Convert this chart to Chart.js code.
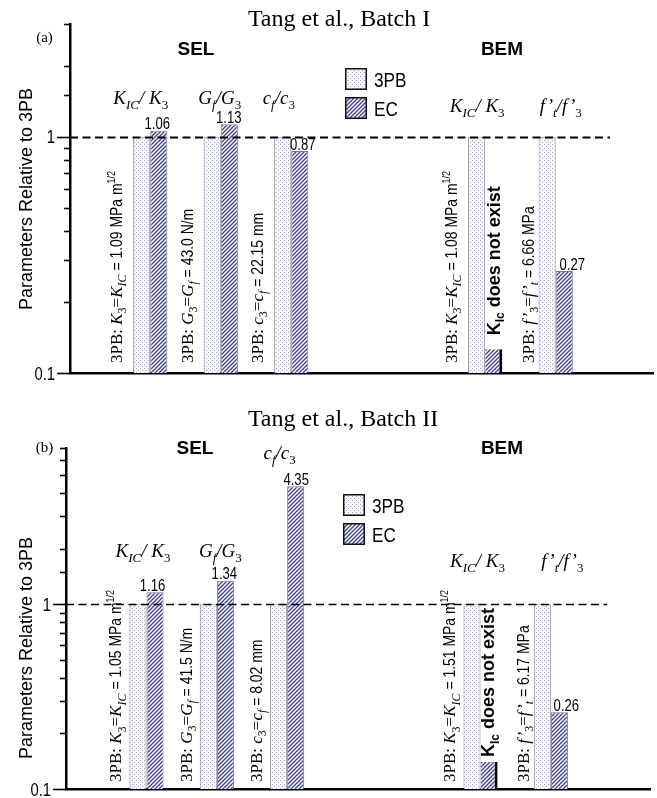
<!DOCTYPE html>
<html>
<head>
<meta charset="utf-8">
<script src="https://cdn.jsdelivr.net/npm/chart.js@4.4.1/dist/chart.umd.min.js"></script>
<style>
  html, body { margin: 0; padding: 0; background: #fff; }
  #wrapA { position: absolute; left: 0; top: 0; width: 657px; height: 400px; }
  #wrapB { position: absolute; left: 0; top: 400px; width: 657px; height: 398px; }
</style>
</head>
<body>
<div id="wrapA"><canvas id="chartA"></canvas></div>
<div id="wrapB"><canvas id="chartB"></canvas></div>
<script>
/* ---------- data ---------- */
// x position of each ratio group (SEL: KIC, Gf, cf  |  BEM: KIC, f't)
const groupX = [0, 1, 2, 4.75, 5.75];
const ref3PB = [1, 1, 1, 1, 1];
const ecBatch1 = [1.06, 1.13, 0.87, 0.126, 0.27];
const ecBatch2 = [1.16, 1.34, 4.35, 0.14, 0.26];
const ecLabels1 = ['1.06', '1.13', '0.87', '', '0.27'];
const ecLabels2 = ['1.16', '1.34', '4.35', '', '0.26'];
const missingEC = [false, false, false, true, false];   // KIc does not exist for BEM
const refValues1 = ['1.09 MPa m', '43.0 N/m', '22.15 mm', '1.08 MPa m', '6.66 MPa'];
const refValues2 = ['1.05 MPa m', '41.5 N/m', '8.02 mm', '1.51 MPa m', '6.17 MPa'];
const yMajor = [0.1, 1];

/* ---------- fonts ---------- */
const SERIF = '"Liberation Serif", "Times New Roman", serif';
const SANS = '"Liberation Sans", Arial, sans-serif';
function hasFont(name) {
  const c = document.createElement('canvas').getContext('2d');
  c.font = '20px monospace';
  const a = c.measureText('abcdefghij0123').width;
  c.font = '20px "' + name + '", monospace';
  return c.measureText('abcdefghij0123').width !== a;
}
const narrowOK = hasFont('Liberation Sans Narrow');
const NARROW = narrowOK ? '"Liberation Sans Narrow", sans-serif' : SANS;
const NSX = narrowOK ? 1 : 0.82;

function styles(size) {
  const sub = Math.round(size * 0.68);
  return {
    r: { font: size + 'px ' + SERIF },
    i: { font: 'italic ' + size + 'px ' + SERIF },
    s: { font: sub + 'px ' + SERIF, dy: size * 0.25 },
    si: { font: 'italic ' + sub + 'px ' + SERIF, dy: size * 0.25 },
    n: { font: size + 'px ' + NARROW, sx: NSX },
    up: { font: Math.round(size * 0.62) + 'px ' + NARROW, sx: NSX, dy: -size * 0.42 },
    b: { font: 'bold ' + size + 'px ' + SANS },
    bs: { font: 'bold ' + Math.round(size * 0.66) + 'px ' + SANS, dy: size * 0.25 }
  };
}

function richWidth(ctx, segs, st) {
  let w = 0;
  for (const [t, k] of segs) {
    ctx.font = st[k].font;
    w += ctx.measureText(t).width * (st[k].sx || 1);
  }
  return w;
}
function drawRich(ctx, segs, st, x, y, rot, align) {
  ctx.save();
  ctx.translate(x, y);
  ctx.rotate(rot || 0);
  ctx.textBaseline = 'alphabetic';
  ctx.textAlign = 'left';
  ctx.fillStyle = '#000';
  let cx = align === 'center' ? -richWidth(ctx, segs, st) / 2 : 0;
  for (const [t, k] of segs) {
    const s = st[k];
    ctx.font = s.font;
    ctx.save();
    ctx.translate(cx, s.dy || 0);
    ctx.scale(s.sx || 1, 1);
    ctx.fillText(t, 0, 0);
    ctx.restore();
    cx += ctx.measureText(t).width * (s.sx || 1);
  }
  ctx.restore();
}

/* ---------- fill patterns ---------- */
function makePattern(draw) {
  const c = document.createElement('canvas');
  c.width = 4; c.height = 4;
  draw(c.getContext('2d'));
  return c.getContext('2d').createPattern(c, 'repeat');
}
const dotPattern = makePattern(g => {
  g.fillStyle = '#f6f6fb'; g.fillRect(0, 0, 4, 4);
  g.fillStyle = '#a4a7cf'; g.fillRect(0, 0, 1, 1); g.fillRect(2, 2, 1, 1);
});
const hatchPattern = makePattern(g => {
  g.fillStyle = '#ffffff'; g.fillRect(0, 0, 4, 4);
  g.strokeStyle = '#3e408a'; g.lineWidth = 1.3;
  g.beginPath();
  g.moveTo(-1, 5); g.lineTo(5, -1);
  g.moveTo(-1, 1); g.lineTo(1, -1);
  g.moveTo(3, 5); g.lineTo(5, 3);
  g.stroke();
});

/* ---------- label texts ---------- */
const groupTitles = [
  [['K', 'i'], ['IC', 'si'], ['/ ', 'i'], ['K', 'i'], ['3', 's']],
  [['G', 'i'], ['f', 'si'], ['/', 'i'], ['G', 'i'], ['3', 's']],
  [['c', 'i'], ['f', 'si'], ['/', 'i'], ['c', 'i'], ['3', 's']],
  [['K', 'i'], ['IC', 'si'], ['/ ', 'i'], ['K', 'i'], ['3', 's']],
  [['f\u2019', 'i'], ['t', 'si'], ['/', 'i'], ['f\u2019', 'i'], ['3', 's']]
];
function refText(i, val) {
  const head = [
    [['K', 'i'], ['3', 's'], ['=', 'r'], ['K', 'i'], ['IC', 'si']],
    [['G', 'i'], ['3', 's'], ['=', 'r'], ['G', 'i'], ['f', 'si']],
    [['c', 'i'], ['3', 's'], ['=', 'r'], ['c', 'i'], ['f', 'si']],
    [['K', 'i'], ['3', 's'], ['=', 'r'], ['K', 'i'], ['IC', 'si']],
    [['f\u2019', 'i'], ['3', 's'], ['=', 'r'], ['f\u2019', 'i'], ['t', 'si']]
  ][i];
  const segs = [['3PB: ', 'r']].concat(head, [[' = ' + val, 'n']]);
  if (val.endsWith('MPa m')) segs.push(['1/2', 'up']);
  return segs;
}
const missingText = [['K', 'b'], ['Ic', 'bs'], [' does not exist', 'b']];

/* ---------- decoration plugin ---------- */
const paperDecor = {
  id: 'paperDecor',
  afterDatasetsDraw(chart, args, o) {
    const ctx = chart.ctx;
    const area = chart.chartArea;
    const xs = chart.scales.x, ys = chart.scales.y;
    const m0 = chart.getDatasetMeta(0).data, m1 = chart.getDatasetMeta(1).data;

    // dashed reference line at 1
    ctx.save();
    ctx.strokeStyle = '#000';
    ctx.lineWidth = o.dashWidth;
    ctx.setLineDash([8, 4.5]);
    ctx.beginPath();
    const y1 = Math.round(ys.getPixelForValue(1)) + 0.5;
    ctx.moveTo(area.left, y1);
    ctx.lineTo(xs.getPixelForValue(o.dashEnd), y1);
    ctx.stroke();
    ctx.restore();

    // y ticks and labels
    ctx.save();
    ctx.strokeStyle = '#000';
    ctx.lineWidth = 1.6;
    for (const t of ys.ticks) {
      const py = Math.round(ys.getPixelForValue(t.value)) + 0.5;
      const major = yMajor.includes(t.value);
      ctx.beginPath();
      ctx.moveTo(area.left - (major ? 13 : 6), py);
      ctx.lineTo(area.left, py);
      ctx.stroke();
    }
    ctx.restore();
    const nst = styles(18);
    for (const v of yMajor) {
      const txt = [[String(v), 'n']];
      const w = richWidth(ctx, txt, nst);
      drawRich(ctx, txt, nst, area.left - 15 - w, ys.getPixelForValue(v) + 6.5, 0);
    }

    // y axis title
    ctx.save();
    ctx.translate(o.yTitleX, o.yTitleY);
    ctx.rotate(-Math.PI / 2);
    ctx.font = '18px ' + SANS;
    ctx.textAlign = 'center';
    ctx.textBaseline = 'alphabetic';
    ctx.fillStyle = '#000';
    ctx.fillText('Parameters Relative to 3PB', 0, 0);
    ctx.restore();

    // chart title and panel tag
    ctx.save();
    ctx.fillStyle = '#000';
    ctx.textAlign = 'center';
    ctx.textBaseline = 'alphabetic';
    ctx.font = '24px ' + SERIF;
    ctx.fillText(o.title, o.titleX, o.titleY);
    ctx.font = '15px ' + SERIF;
    ctx.fillText(o.tag, 44.5, o.tagY);
    ctx.font = 'bold 19px ' + SANS;
    ctx.fillText('SEL', o.selX, o.methodY);
    ctx.fillText('BEM', o.bemX, o.methodY);
    ctx.restore();

    // legend
    const lg = o.legend;
    [['3PB', dotPattern], ['EC', hatchPattern]].forEach(([name, pat], k) => {
      const by = lg.y + k * 29;
      ctx.save();
      ctx.fillStyle = pat;
      ctx.fillRect(lg.x, by, 22, 22);
      ctx.strokeStyle = '#111';
      ctx.lineWidth = 1.5;
      ctx.strokeRect(lg.x + 0.75, by + 0.75, 20.5, 20.5);
      ctx.restore();
      drawRich(ctx, [[name, 'n']], styles(21), lg.x + 29, by + 19, 0);
    });

    const gst = styles(19);
    const rst = styles(17);
    groupX.forEach((gx, i) => {
      const b0 = m0[i], b1 = m1[i];
      const left0 = b0.x - b0.width / 2;
      const center = (b0.x + b0.width / 2 + b1.x - b1.width / 2) / 2;
      // group title
      drawRich(ctx, groupTitles[i], gst, center + o.groupDx[i], o.groupY[i], 0, 'center');
      // value label on EC bar
      if (o.ecLabels[i]) {
        drawRich(ctx, [[o.ecLabels[i], 'n']], styles(16), b1.x + o.labelDx[i], b1.y - 1.5, 0, 'center');
      }
      // rotated 3PB reference value
      drawRich(ctx, refText(i, o.refValues[i]), rst,
        left0 - (i === 4 ? o.refGapLast : o.refGap), area.bottom - o.refBottom, -Math.PI / 2);
      if (missingEC[i]) {
        drawRich(ctx, missingText, styles(18), b1.x + o.missDx, b1.y - o.missGap, -Math.PI / 2);
      }
    });
  }
};

function makeChart(id, ecValues, yMax, xMin, xMax, pad, yWidth, xHeight, decor) {
  return new Chart(document.getElementById(id), {
    type: 'bar',
    data: {
      datasets: [
        {
          label: '3PB',
          data: groupX.map((x, i) => ({ x: x, y: ref3PB[i] })),
          backgroundColor: dotPattern,
          borderColor: '#8c8c9a',
          borderWidth: 1,
          categoryPercentage: 0.485,
          barPercentage: 1
        },
        {
          label: 'EC',
          data: groupX.map((x, i) => ({ x: x, y: ecValues[i] })),
          backgroundColor: hatchPattern,
          borderColor: c => missingEC[c.dataIndex] ? '#000' : '#77778a',
          borderWidth: c => missingEC[c.dataIndex] ? { top: 0, left: 0, right: 3, bottom: 0 } : 1,
          categoryPercentage: 0.485,
          barPercentage: 1
        }
      ]
    },
    options: {
      responsive: true,
      maintainAspectRatio: false,
      animation: false,
      layout: { padding: pad },
      scales: {
        x: {
          type: 'linear',
          offset: false,
          min: xMin,
          max: xMax,
          grid: { display: false, drawTicks: false, offset: false },
          ticks: { display: false, stepSize: 1, includeBounds: false },
          border: { display: true, color: '#000', width: 2.5 },
          afterFit: s => { s.height = xHeight; }
        },
        y: {
          type: 'logarithmic',
          min: 0.1,
          max: yMax,
          grid: { display: false, drawTicks: false },
          ticks: { display: false, autoSkip: false },
          border: { display: true, color: '#000', width: 2.5 },
          afterFit: s => { s.width = yWidth; }
        }
      },
      plugins: {
        legend: { display: false },
        tooltip: { enabled: false },
        paperDecor: decor
      }
    },
    plugins: [paperDecor]
  });
}

makeChart('chartA', ecBatch1, 3, -1.138, 7.13, { top: 24, right: 4, left: 0, bottom: 0 }, 70, 27, {
  title: 'Tang et al., Batch I', titleX: 339, titleY: 26, tag: '(a)', tagY: 42,
  selX: 196, bemX: 502, methodY: 55,
  yTitleX: 32, yTitleY: 199,
  legend: { x: 345, y: 68 },
  dashWidth: 2, dashEnd: 6.52,
  ecLabels: ecLabels1, refValues: refValues1,
  labelDx: [-1.5, -0.5, 3, 0, 8],
  groupDx: [-9.5, -1, -12.5, -8, 5],
  groupY: [104, 104, 104, 112, 112],
  refGap: 11, refGapLast: 5, refBottom: 10,
  missDx: 6, missGap: 14
});

makeChart('chartB', ecBatch2, 7, -1.145, 7.16, { top: 48, right: 7, left: 0, bottom: 0 }, 66, 9, {
  title: 'Tang et al., Batch II', titleX: 343, titleY: 26, tag: '(b)', tagY: 52,
  selX: 195, bemX: 502, methodY: 54,
  yTitleX: 32, yTitleY: 248,
  legend: { x: 343, y: 94 },
  dashWidth: 1.6, dashEnd: 6.55,
  ecLabels: ecLabels2, refValues: refValues2,
  labelDx: [-2.5, -1, 0.5, 0, 7],
  groupDx: [-3.5, 3.5, -7.5, -3, 11.5],
  groupY: [157, 157, 59, 167, 167],
  refGap: 8, refGapLast: 5, refBottom: 7,
  missDx: 5, missGap: 5
});
</script>
</body>
</html>
